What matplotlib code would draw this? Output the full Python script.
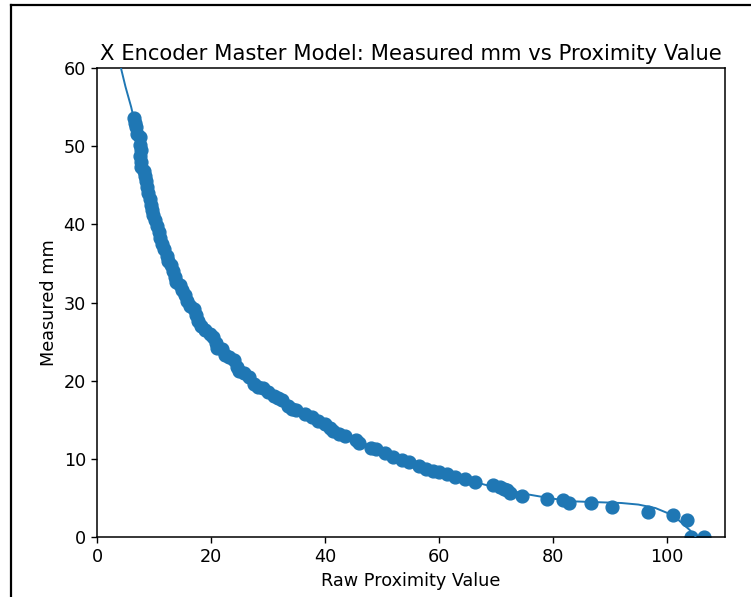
import numpy as np
from matplotlib import pyplot as plt
from matplotlib.lines import Line2D

# measured samples (raw proximity value, measured mm)
raw_x = [6.5, 6.6, 6.8, 7.0, 7.5, 7.6, 7.7, 7.6, 7.7, 7.8, 8.2, 8.5, 8.6, 8.8, 9.0,
         9.3, 9.4, 9.6, 9.8, 10.2, 10.6, 10.9, 11.0, 11.4, 11.8, 12.2, 12.5, 13.0,
         13.3, 13.6, 13.9, 14.5, 15.0, 15.5, 15.8, 16.3, 17.0, 17.4, 17.8, 18.3,
         19.0, 19.8, 20.4, 20.8, 21.0, 22.0, 22.4, 23.2, 24.0, 24.5, 25.0, 25.8,
         26.6, 27.6, 28.2, 29.2, 30.0, 31.0, 31.8, 32.5, 33.5, 34.2, 35.0, 36.5,
         37.8, 38.8, 40.0, 40.8, 41.5, 42.5, 43.5, 45.5, 46.0, 48.0, 49.0, 50.5,
         52.0, 53.5, 54.8, 56.5, 57.8, 59.0, 60.0, 61.5, 62.8, 64.5, 66.3, 69.5,
         70.8, 71.5, 72.0, 72.5, 74.5, 79.0, 81.8, 82.8, 86.7, 90.4, 96.7, 101.0,
         103.5, 104.2, 106.5]
measured_mm = [53.6, 53.0, 52.4, 51.6, 51.2, 50.2, 49.5, 48.8, 48.0, 47.3, 46.8, 46.2,
               45.5, 44.8, 44.0, 43.2, 42.5, 41.8, 41.2, 40.6, 39.8, 39.0, 38.2, 37.5,
               36.8, 36.0, 35.3, 34.8, 34.0, 33.3, 32.6, 32.2, 31.6, 31.0, 30.2, 29.6,
               29.2, 28.4, 27.6, 27.0, 26.5, 26.0, 25.6, 24.8, 24.2, 24.1, 23.3, 23.0,
               22.6, 21.8, 21.3, 21.0, 20.5, 19.6, 19.2, 19.1, 18.6, 18.1, 17.8, 17.5,
               16.7, 16.4, 16.2, 15.7, 15.3, 14.9, 14.4, 14.0, 13.6, 13.2, 12.9, 12.4,
               12.0, 11.4, 11.2, 10.8, 10.2, 9.8, 9.6, 9.1, 8.7, 8.4, 8.3, 8.0, 7.7,
               7.4, 7.0, 6.6, 6.4, 6.2, 6.0, 5.6, 5.2, 4.9, 4.7, 4.3, 4.3, 3.8, 3.2,
               2.8, 2.2, 0.0, 0.0]

# fitted model curve
model_x = [3, 4, 5, 6, 7, 8, 9, 10, 11, 12, 13, 14, 16, 18, 20, 22, 24, 26, 28, 30,
           33, 36, 40, 44, 48, 52, 56, 60, 64, 68, 72, 76, 80, 84, 88, 92, 95, 98,
           100, 102, 104, 105]
model_y = [64.0, 60.6, 57.6, 55.0, 51.8, 48.4, 45.2, 42.2, 39.5, 37.0, 34.9, 32.8,
           30.0, 27.6, 25.6, 23.9, 22.3, 20.9, 19.6, 18.5, 17.0, 15.8, 14.3, 13.0,
           11.6, 10.4, 9.3, 8.4, 7.5, 6.7, 6.0, 5.4, 4.9, 4.55, 4.45, 4.35, 4.15,
           3.7, 3.1, 2.2, 0.9, 0.1]

fs = 12.7
fig = plt.figure(figsize=(7.51, 5.97), dpi=100)
ax = fig.add_axes([97/751, 60/597, 628/751, 469/597])
ax.scatter(raw_x, measured_mm, s=85, color='#1f77b4', zorder=2)
ax.plot(model_x, model_y, color='#1f77b4', lw=1.4, zorder=3)
ax.set_xlim(0, 110.2)
ax.set_ylim(0, 60)
ax.set_title('X Encoder Master Model: Measured mm vs Proximity Value', fontsize=15.2)
ax.set_xlabel('Raw Proximity Value', fontsize=fs)
ax.set_ylabel('Measured mm', fontsize=fs)
ax.tick_params(labelsize=fs, length=4.5, width=1)
for s in ax.spines.values():
    s.set_linewidth(1.1)

# screenshot frame edge
fig.add_artist(Line2D([10.5/751, 10.5/751], [0, 1 - 5/597], color='black', lw=1.6,
                      transform=fig.transFigure))
fig.add_artist(Line2D([10.5/751, 1], [1 - 5/597, 1 - 5/597], color='black', lw=1.6,
                      transform=fig.transFigure))

fig.savefig('out.png', dpi=100)
